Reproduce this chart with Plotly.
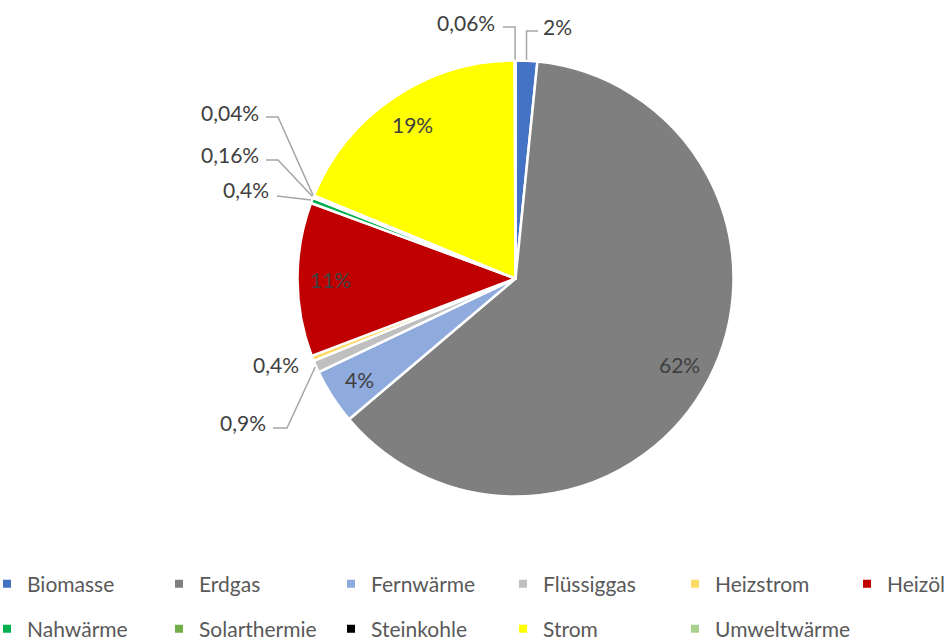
import math
import plotly.graph_objects as go

# ---------------- data ----------------
categories = ["Biomasse", "Erdgas", "Fernwärme", "Flüssiggas", "Heizstrom", "Heizöl",
              "Nahwärme", "Solarthermie", "Steinkohle", "Strom", "Umweltwärme"]
shares = [1.6, 62.2, 4.1, 0.9, 0.4, 11.4, 0.4, 0.16, 0.04, 18.7, 0.06]
pct_labels = ["2%", "62%", "4%", "0,9%", "0,4%", "11%", "0,4%", "0,16%", "0,04%", "19%", "0,06%"]
colors = ["#4472C4", "#7F7F7F", "#8FAADC", "#BFBFBF", "#FFD966", "#C00000",
          "#00B050", "#70AD47", "#000000", "#FFFF00", "#A9D18E"]

# ---------------- layout constants ----------------
W, H = 947, 642
CX, CY, R = 515.5, 278.5, 218.0
FONT = "Lato"
LABEL_COLOR = "#404040"
LEGEND_COLOR = "#595959"
LINE_COLOR = "#A6A6A6"

# label placement (pixel positions, style only)
outside = {
    "Biomasse":     dict(text=(541, 27), anchor="left",  knee=(None, 31), end=(538, 31)),
    "Umweltwärme":  dict(text=(497, 22.5), anchor="right", knee=(None, 27), end=(503, 27)),
    "Steinkohle":   dict(text=(261, 113), anchor="right", knee=(278, 117), end=(266, 117)),
    "Solarthermie": dict(text=(261, 155), anchor="right", knee=(278, 160), end=(266, 160)),
    "Nahwärme":     dict(text=(271, 190), anchor="right", knee=None, end=(277, 196)),
    "Heizstrom":    dict(text=(301, 364.5), anchor="right", knee=None, end=None),
    "Flüssiggas":   dict(text=(268, 422), anchor="right", knee=(287, 428), end=(273, 428)),
}
INSIDE_FRAC = 0.85


def px2paper(x, y):
    return x / W, 1 - y / H


def polar(theta_deg, r):
    t = math.radians(theta_deg)
    return CX + r * math.sin(t), CY - r * math.cos(t)


fig = go.Figure()

fig.add_trace(go.Pie(
    labels=categories,
    values=shares,
    sort=False,
    direction="clockwise",
    rotation=0,
    textinfo="none",
    hoverinfo="label+percent",
    showlegend=False,
    marker=dict(colors=colors, line=dict(color="white", width=2.5)),
    domain=dict(x=[(CX - R) / W, (CX + R) / W], y=[1 - (CY + R) / H, 1 - (CY - R) / H]),
))

# legend entries (two rows) as marker-only traces
for i, (cat, col) in enumerate(zip(categories, colors)):
    extra = {}
    if i == 5:
        extra["legendwidth"] = 58
    fig.add_trace(go.Scatter(
        x=[None], y=[None], mode="markers", name=cat,
        marker=dict(symbol="square", size=8, color=col),
        legend="legend" if i < 6 else "legend2",
        showlegend=True, hoverinfo="skip", **extra,
    ))

# labels and leader lines computed from data angles
total = sum(shares)
cum = 0.0
annotations = []
shapes = []
for cat, v, txt in zip(categories, shares, pct_labels):
    a0 = cum / total * 360
    cum += v
    a1 = cum / total * 360
    mid = (a0 + a1) / 2
    if cat in outside:
        spec = outside[cat]
        tx, ty = px2paper(*spec["text"])
        annotations.append(dict(
            x=tx, y=ty, xref="paper", yref="paper", text=txt, showarrow=False,
            xanchor=spec["anchor"], yanchor="middle",
            font=dict(family=FONT, size=21, color=LABEL_COLOR)))
        if spec["end"] is not None:
            p0 = polar(mid, R + 1)
            pts = [p0]
            if spec["knee"] is not None:
                kx, ky = spec["knee"]
                pts.append((p0[0] if kx is None else kx, ky))
            pts.append(spec["end"])
            path = ""
            for j, (x, y) in enumerate(pts):
                px_, py_ = px2paper(x, y)
                path += ("M" if j == 0 else " L") + f" {px_:.5f},{py_:.5f}"
            shapes.append(dict(type="path", xref="paper", yref="paper", path=path,
                               line=dict(color=LINE_COLOR, width=1.5)))
    else:
        x, y = polar(mid, R * INSIDE_FRAC)
        px_, py_ = px2paper(x, y)
        annotations.append(dict(
            x=px_, y=py_, xref="paper", yref="paper", text=txt, showarrow=False,
            xanchor="center", yanchor="middle",
            font=dict(family=FONT, size=21, color=LABEL_COLOR)))

legend_common = dict(
    orientation="h", xanchor="left", yanchor="middle", x=0, indentation=-13,
    entrywidthmode="pixels", entrywidth=140,
    font=dict(family=FONT, size=21, color=LEGEND_COLOR),
    bgcolor="rgba(0,0,0,0)", borderwidth=0, itemclick=False, itemdoubleclick=False,
)

fig.update_layout(
    width=W, height=H,
    margin=dict(l=0, r=0, t=0, b=0, autoexpand=False),
    paper_bgcolor="white", plot_bgcolor="white",
    font=dict(family=FONT, color=LABEL_COLOR),
    xaxis=dict(visible=False), yaxis=dict(visible=False),
    legend=dict(**legend_common, y=1 - 584 / H),
    legend2=dict(**legend_common, y=1 - 629 / H),
    annotations=annotations,
    shapes=shapes,
)

fig.write_html(
    "out.html",
    config={"displayModeBar": False},
    post_script="document.body.style.margin='0';document.body.style.overflow='hidden';",
)
